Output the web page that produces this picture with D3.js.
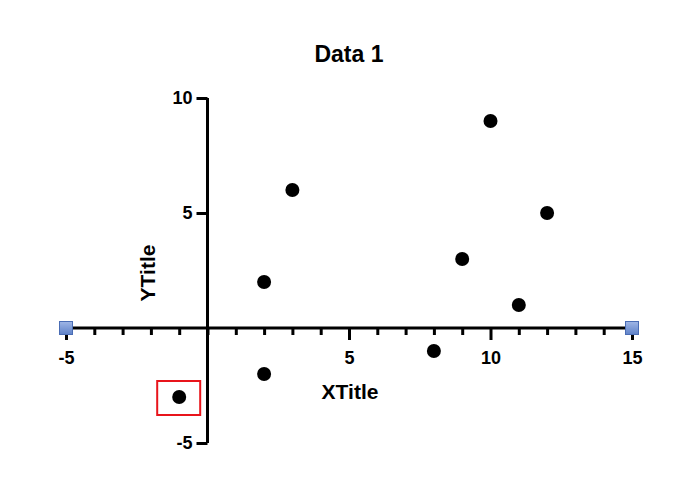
<!DOCTYPE html>
<html>
<head>
<meta charset="utf-8">
<script src="https://cdn.jsdelivr.net/npm/d3@7"></script>
<style>
  body { margin: 0; background: #fff; }
  text { font-family: Arial, "Liberation Sans", sans-serif; font-weight: bold; fill: #000; }
</style>
</head>
<body>
<div id="container"></div>
<script>
const xs = [-1, 2, 2, 3, 8, 9, 10, 11, 12],
  ys = [-3, 2, -2, 6, -1, 3, 9, 1, 5],
  highlighted = [0],
  ends = [-5, 15],
  xTicks = [-5, 5, 10, 15],
  yTicks = [-5, 5, 10],
  title = 'Data 1',
  xTitle = 'XTitle',
  yTitle = 'YTitle';

const width = 680, height = 484;

const x = d3.scaleLinear().domain([-5, 15]).range([66, 632]),
  y = d3.scaleLinear().domain([-5, 10]).range([443, 98]);

const svg = d3.select('#container')
  .append('svg')
    .attr('width', width)
    .attr('height', height);

const defs = svg.append('defs');
const grad = defs.append('linearGradient')
  .attr('id', 'sq')
  .attr('x1', 0).attr('y1', 0).attr('x2', 0).attr('y2', 1);
grad.append('stop').attr('offset', '0%').attr('stop-color', '#9fb6e6');
grad.append('stop').attr('offset', '100%').attr('stop-color', '#5f82c8');

// x axis: minor ticks every 1, major at labelled values
const xAxis = d3.axisBottom(x)
  .tickValues(d3.range(-5, 16, 1))
  .tickSize(7)
  .tickFormat('');
const gx = svg.append('g')
  .attr('transform', `translate(0,${y(0)})`)
  .call(xAxis);
gx.select('.domain').attr('stroke-width', 3).attr('d', `M${x(-5)},0H${x(15)}`);
gx.selectAll('.tick line').attr('stroke-width', 3)
  .attr('y2', d => xTicks.includes(d) ? 12 : 7);
gx.selectAll('.tick').filter(d => xTicks.includes(d))
  .append('text')
    .attr('y', 36)
    .attr('text-anchor', 'middle')
    .style('font-size', '18px')
    .text(d => d);

// y axis
const yAxis = d3.axisLeft(y)
  .tickValues(yTicks)
  .tickSize(11)
  .tickPadding(4)
  .tickFormat(d => d);
const gy = svg.append('g')
  .attr('transform', `translate(${x(0)},0)`)
  .call(yAxis);
gy.select('.domain').attr('stroke-width', 3).attr('d', `M0,${y(10)}V${y(-5)}`);
gy.selectAll('.tick line').attr('stroke-width', 3);
gy.selectAll('.tick text')
  .attr('fill', '#000')
  .style('font-size', '18px')
  .style('font-family', 'Arial, "Liberation Sans", sans-serif')
  .style('font-weight', 'bold');

// end markers
svg.append('g')
  .selectAll('rect')
  .data(ends)
  .enter()
  .append('rect')
    .attr('x', d => x(d) - 6.5)
    .attr('y', y(0) - 6.5)
    .attr('width', 13)
    .attr('height', 13)
    .attr('fill', 'url(#sq)')
    .attr('stroke', '#4a6db5')
    .attr('stroke-width', 1);

// points
svg.append('g')
  .selectAll('circle')
  .data(xs)
  .enter()
  .append('circle')
    .attr('cx', d => x(d))
    .attr('cy', (d, i) => y(ys[i]))
    .attr('r', 7)
    .attr('fill', '#000');

// highlight box
svg.append('g')
  .selectAll('rect')
  .data(highlighted)
  .enter()
  .append('rect')
    .attr('x', i => x(xs[i]) - 22)
    .attr('y', i => y(ys[i]) - 16)
    .attr('width', 43)
    .attr('height', 34)
    .attr('fill', 'none')
    .attr('stroke', '#e8141b')
    .attr('stroke-width', 2);

// titles
svg.append('text')
  .attr('x', 349)
  .attr('y', 62)
  .attr('text-anchor', 'middle')
  .style('font-size', '23px')
  .text(title);

svg.append('text')
  .attr('x', 350)
  .attr('y', 399)
  .attr('text-anchor', 'middle')
  .style('font-size', '21px')
  .text(xTitle);

svg.append('text')
  .attr('transform', 'translate(155,273) rotate(-90)')
  .attr('text-anchor', 'middle')
  .style('font-size', '21px')
  .text(yTitle);
</script>
</body>
</html>
